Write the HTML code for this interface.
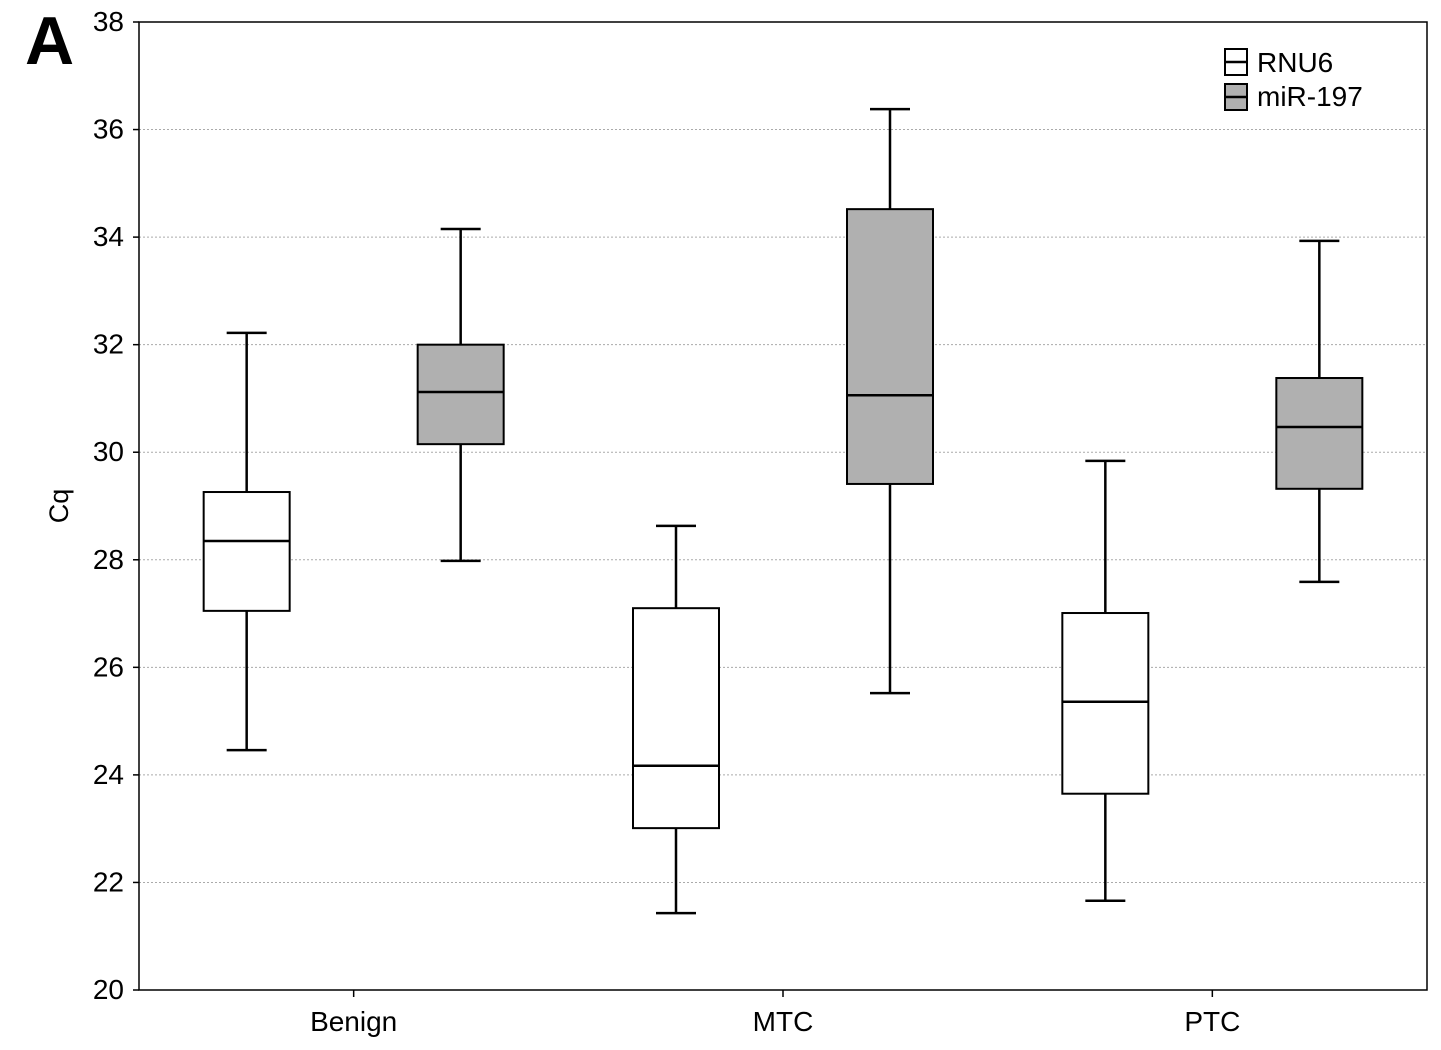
<!DOCTYPE html>
<html><head><meta charset="utf-8"><style>
html,body{margin:0;padding:0;background:#fff;}
svg{display:block;font-family:"Liberation Sans",Arial,sans-serif;}
</style></head><body>
<svg id="chart" width="1441" height="1050">
<text x="25" y="64" font-size="68" font-weight="bold">A</text>
<g id="grid"></g>
<g id="boxes"></g>
<rect x="139" y="22" width="1288" height="968" fill="none" stroke="#000" stroke-width="1.5"/>
<g id="yaxis"></g>
<g id="xaxis"></g>
<text transform="translate(68,506) rotate(-90)" text-anchor="middle" font-size="27">Cq</text>
<g>
<rect x="1225" y="49" width="22" height="26" fill="#fff" stroke="#000" stroke-width="2"/>
<line x1="1225" y1="62" x2="1247" y2="62" stroke="#000" stroke-width="2.5"/>
<text x="1257" y="72" font-size="28">RNU6</text>
<rect x="1225" y="84" width="22" height="26" fill="#b0b0b0" stroke="#000" stroke-width="2"/>
<line x1="1225" y1="97" x2="1247" y2="97" stroke="#000" stroke-width="2.5"/>
<text x="1257" y="106" font-size="28">miR-197</text>
</g>
</svg>
<script>
const categories = ["Benign","MTC","PTC"];
const yTicks = [20,22,24,26,28,30,32,34,36,38];
// [min, q1, median, q3, max]
const rnu6 = [[24.46,27.05,28.35,29.26,32.22],[21.43,23.01,24.17,27.1,28.63],[21.66,23.65,25.36,27.01,29.84]];
const mir197 = [[27.98,30.15,31.12,32.0,34.15],[25.52,29.41,31.06,34.52,36.38],[27.59,29.32,30.47,31.38,33.93]];

const NS="http://www.w3.org/2000/svg";
const L=139,R=1427,T=22,B=990,yMin=20,yMax=38;
const y=v=>B-(v-yMin)/(yMax-yMin)*(B-T);
const band=(R-L)/categories.length;
const x=i=>L+band*(i+0.5);
function mk(tag,attrs,parent){const e=document.createElementNS(NS,tag);for(const k in attrs)e.setAttribute(k,attrs[k]);parent.appendChild(e);return e;}
const grid=document.getElementById('grid'),ya=document.getElementById('yaxis'),xa=document.getElementById('xaxis'),bx=document.getElementById('boxes');
yTicks.forEach(t=>{
  if(t>yMin&&t<yMax){const g=mk('line',{x1:L,x2:R,y1:y(t),y2:y(t),stroke:'#aaa','stroke-width':1,'stroke-dasharray':'2,2'},grid);
  
  }
  mk('line',{x1:L-6,x2:L,y1:y(t),y2:y(t),stroke:'#000','stroke-width':1.5},ya);
  const tx=mk('text',{x:L-15,y:y(t)+9,'text-anchor':'end','font-size':28},ya);tx.textContent=t;
  
  
});
categories.forEach((c,i)=>{
  mk('line',{x1:x(i),x2:x(i),y1:B,y2:B+7,stroke:'#000','stroke-width':1.5},xa);
  const tx=mk('text',{x:x(i),y:B+41,'text-anchor':'middle','font-size':28},xa);tx.textContent=c;
  
  
});
function drawBox(d,cx,fill,name){
  const g=mk('g',{},bx);
  
  
  const w=86,cw=40,s={stroke:'#000','stroke-width':2.5};
  mk('line',Object.assign({x1:cx,x2:cx,y1:y(d[0]),y2:y(d[4])},s),g);
  mk('line',Object.assign({x1:cx-cw/2,x2:cx+cw/2,y1:y(d[0]),y2:y(d[0])},s),g);
  mk('line',Object.assign({x1:cx-cw/2,x2:cx+cw/2,y1:y(d[4]),y2:y(d[4])},s),g);
  mk('rect',{x:cx-w/2,y:y(d[3]),width:w,height:y(d[1])-y(d[3]),fill:fill,stroke:'#000','stroke-width':2},g);
  mk('line',Object.assign({x1:cx-w/2,x2:cx+w/2,y1:y(d[2]),y2:y(d[2])},s),g);
}
categories.forEach((c,i)=>{
  drawBox(rnu6[i],x(i)-107,'#fff','box-rnu6-'+c.toLowerCase());
  drawBox(mir197[i],x(i)+107,'#b0b0b0','box-mir197-'+c.toLowerCase());
});
</script>
</body></html>
